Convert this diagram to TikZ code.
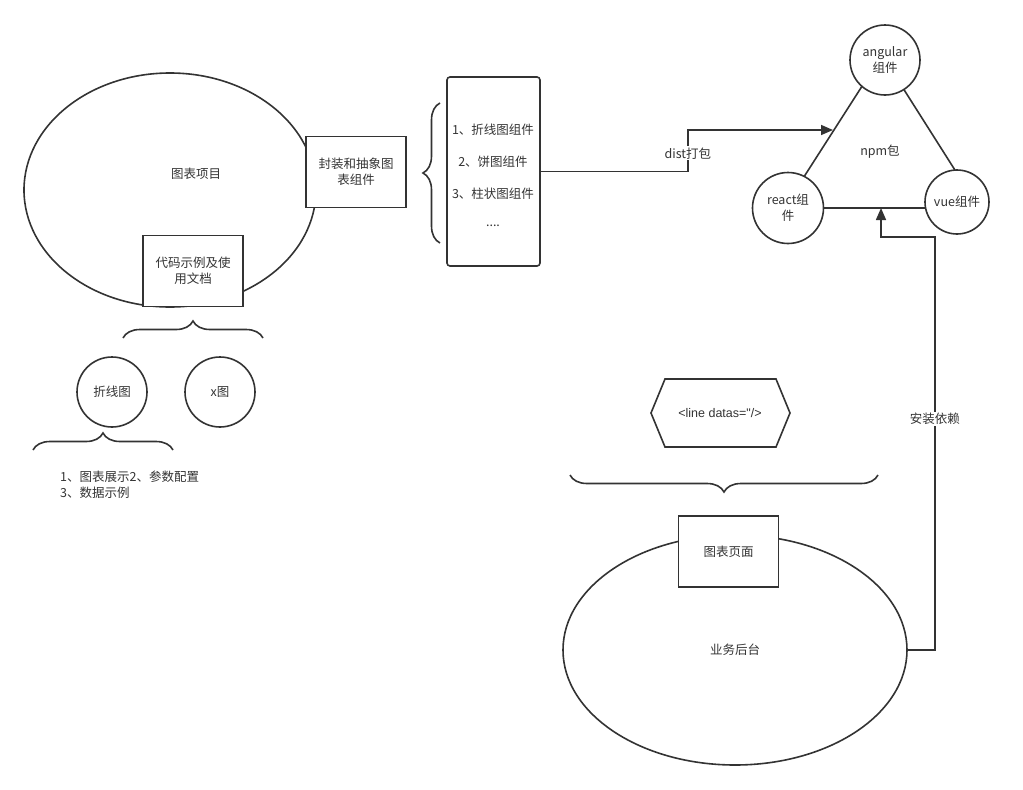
\documentclass[tikz,border=0pt]{standalone}
\usepackage{fontspec}
\setmainfont{Noto Sans CJK SC}
\newfontfamily\latinfont{Liberation Sans}
\usetikzlibrary{arrows.meta, positioning, shapes.geometric, decorations.pathreplacing}
\definecolor{lineDark}{HTML}{333333}
\definecolor{textDark}{HTML}{333333}

\begin{document}
\begin{tikzpicture}[x=1pt, y=-1pt, line width=1.6pt, draw=lineDark,
    every node/.style={font=\fontsize{12.5}{16}\selectfont, text=textDark},
    box/.style={draw=lineDark, fill=white, minimum width=100pt, minimum height=71pt, align=center},
    blob/.style={ellipse, draw=lineDark, inner sep=0pt},
    ring/.style={circle, draw=lineDark, fill=white, minimum size=70pt, inner sep=0pt, align=center},
    brace/.style={decorate, decoration={brace, amplitude=17pt}},
    flow/.style={-{Triangle[length=12pt, width=10pt]}}]
  \useasboundingbox (0,0) rectangle (1023,790);

  % left side: chart project
  \node[blob, minimum width=292pt, minimum height=234pt] (proj) at (170,190) {};
  \node (projLabel) at (196,174) {图表项目};
  \node[box] (wrap) at (356,172) {封装和抽象图\\表组件};
  \node[box] (docs) at (193,271) {代码示例及使\\用文档};
  \draw[brace] (123,338) -- (263,338);
  \node[ring] (line) at (112,392) {折线图};
  \node[ring] (xchart) at (220,392) {x图};
  \draw[brace] (33,450) -- (173,450);
  \node[align=left, anchor=west] (docItems) at (56,485) {1、图表展示2、参数配置\\3、数据示例};

  % component list
  \draw[brace] (440,243) -- (440,103);
  \node[draw=lineDark, rounded corners=3pt, minimum width=93pt, minimum height=189pt] (list) at (493.5,171.5) {};
  \node (item1) at (493,130) {1、折线图组件};
  \node (item2) at (493,162) {2、饼图组件};
  \node (item3) at (493,194) {3、柱状图组件};
  \node (item4) at (493,226) {....};

  % npm package
  \coordinate (npmTop) at (882,55);
  \coordinate (npmLeft) at (784,208);
  \coordinate (npmRight) at (979,208);
  \coordinate (npmIn) at (833,130);
  \coordinate (npmBot) at (881,208);
  \coordinate (npmTurn) at (881,237);
  \draw (npmTop) -- (npmLeft) -- (npmRight) -- cycle;
  \node (npmLabel) at (880,152) {npm包};
  \node[ring] (ng) at (885,60) {angular\\组件};
  \node[ring, minimum size=71pt] (react) at (788,208) {react组\\件};
  \node[ring, minimum size=64pt] (vue) at (957,202) {vue组件};

  \draw[flow] (list.east) -- ++(147,0) |- node[pos=0.22, fill=white, inner sep=1pt] {dist打包} (npmIn);

  % business backend
  \node[font=\latinfont\fontsize{12.5}{16}\selectfont] (tag) at (720,413) {<line datas="/>};
  \draw (tag.center) ++(-55,-34) -- ++(111,0) -- ++(14,34) -- ++(-14,34) -- ++(-111,0) -- ++(-14,-34) -- cycle;
  \draw[brace] (878,475) -- (570,475);
  \node[blob, minimum width=344pt, minimum height=230pt] (biz) at (735,650) {};
  \node (bizLabel) at (735,650) {业务后台};
  \node[box] (page) at (728.5,551.5) {图表页面};

  \draw[flow] (biz.east) -- ++(27,0) |- node[pos=0.28, fill=white, inner sep=1pt] {安装依赖} (npmTurn) -- (npmBot);
\end{tikzpicture}
\end{document}
